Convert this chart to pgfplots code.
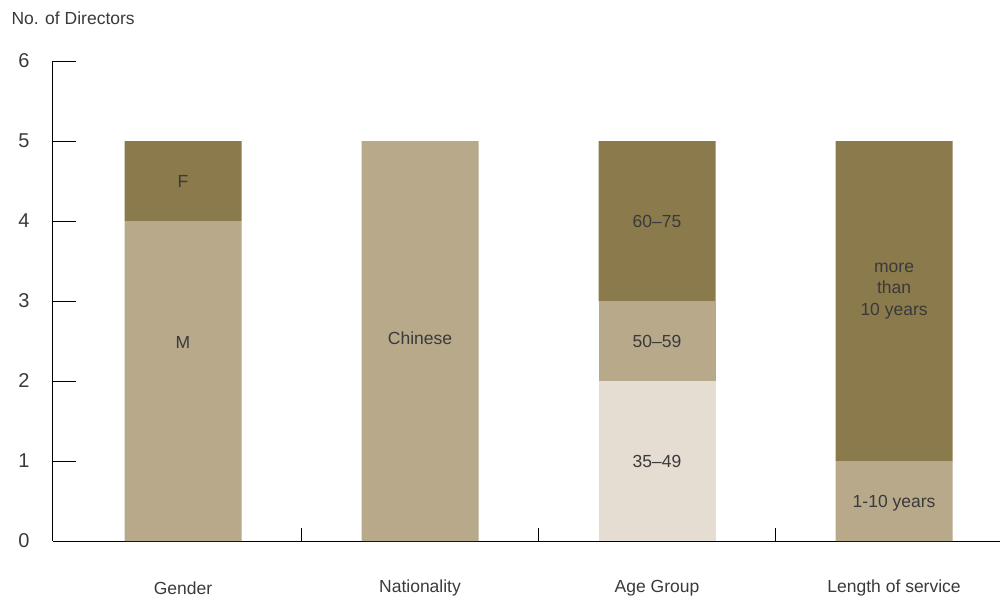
\documentclass[border=0pt]{standalone}
\usepackage{fontspec}
\setmainfont{Liberation Sans}
\usepackage{pgfplots}
\pgfplotsset{compat=1.18}
\definecolor{darkb}{HTML}{8A7A4C}
\definecolor{medb}{HTML}{B7A98A}
\definecolor{lightb}{HTML}{E5DCD2}
\definecolor{txt}{HTML}{3A3A3A}
\tikzset{blab/.style={font=\fontsize{17.5}{21.5}\selectfont, text=txt, align=center}}
\begin{document}
\begin{tikzpicture}
\begin{axis}[
  scale only axis,
  width=947pt, height=480pt,
  at={(0,0)}, anchor=south west,
  xmin=-0.5485, xmax=3.447,
  ymin=0, ymax=6,
  axis lines=left,
  axis line style={-, line width=1pt, black},
  tick align=inside,
  ytick={0,1,2,3,4,5,6},
  ytick style={line width=1pt, black},
  major tick length=23pt,
  xtick={0.5,1.5,2.5},
  xticklabels={},
  xtick style={line width=1pt, black, /pgfplots/major tick length=13pt},
  y tick label style={font=\fontsize{20}{22}\selectfont, text=txt, xshift=-20pt},
  /pgf/number format/assume math mode=true,
  ybar stacked,
  bar width=117pt,
  clip=false,
]
\addplot[fill=medb, draw=none] coordinates {(0,4) (1,5) (2,0) (3,1)};
\addplot[fill=lightb, draw=none] coordinates {(0,0) (1,0) (2,2) (3,0)};
\addplot[fill=medb, draw=none] coordinates {(0,0) (1,0) (2,1) (3,0)};
\addplot[fill=darkb, draw=none] coordinates {(0,1) (1,0) (2,2) (3,4)};

\coordinate (lF) at (axis cs:0,4.5);
\coordinate (lM) at (axis cs:0,2.48);
\coordinate (lC) at (axis cs:1,2.53);
\coordinate (lA3) at (axis cs:2,4.0);
\coordinate (lA2) at (axis cs:2,2.5);
\coordinate (lA1) at (axis cs:2,1.0);
\coordinate (lL2) at (axis cs:3,3.125);
\coordinate (lL1) at (axis cs:3,0.47);
\node[blab] at (axis cs:0,-0.59) {Gender};
\node[blab] at (axis cs:1,-0.59) {Nationality};
\node[blab] at (axis cs:2,-0.59) {Age Group};
\node[blab] at (axis cs:3,-0.59) {Length of service};
\end{axis}
\node[blab] at (lF) {F};
\node[blab] at (lM) {M};
\node[blab] at (lC) {Chinese};
\node[blab] at (lA3) {60–75};
\node[blab] at (lA2) {50–59};
\node[blab] at (lA1) {35–49};
\node[blab] at (lL2) {more\\than\\10 years};
\node[blab] at (lL1) {1-10 years};
\node[anchor=base west, font=\fontsize{17.5}{20}\selectfont, text=txt] at (-45pt,516pt) {No. of Directors};
\pgfresetboundingbox
\path[use as bounding box] (-53pt,-57pt) rectangle (947pt,541pt);
\end{tikzpicture}
\end{document}
